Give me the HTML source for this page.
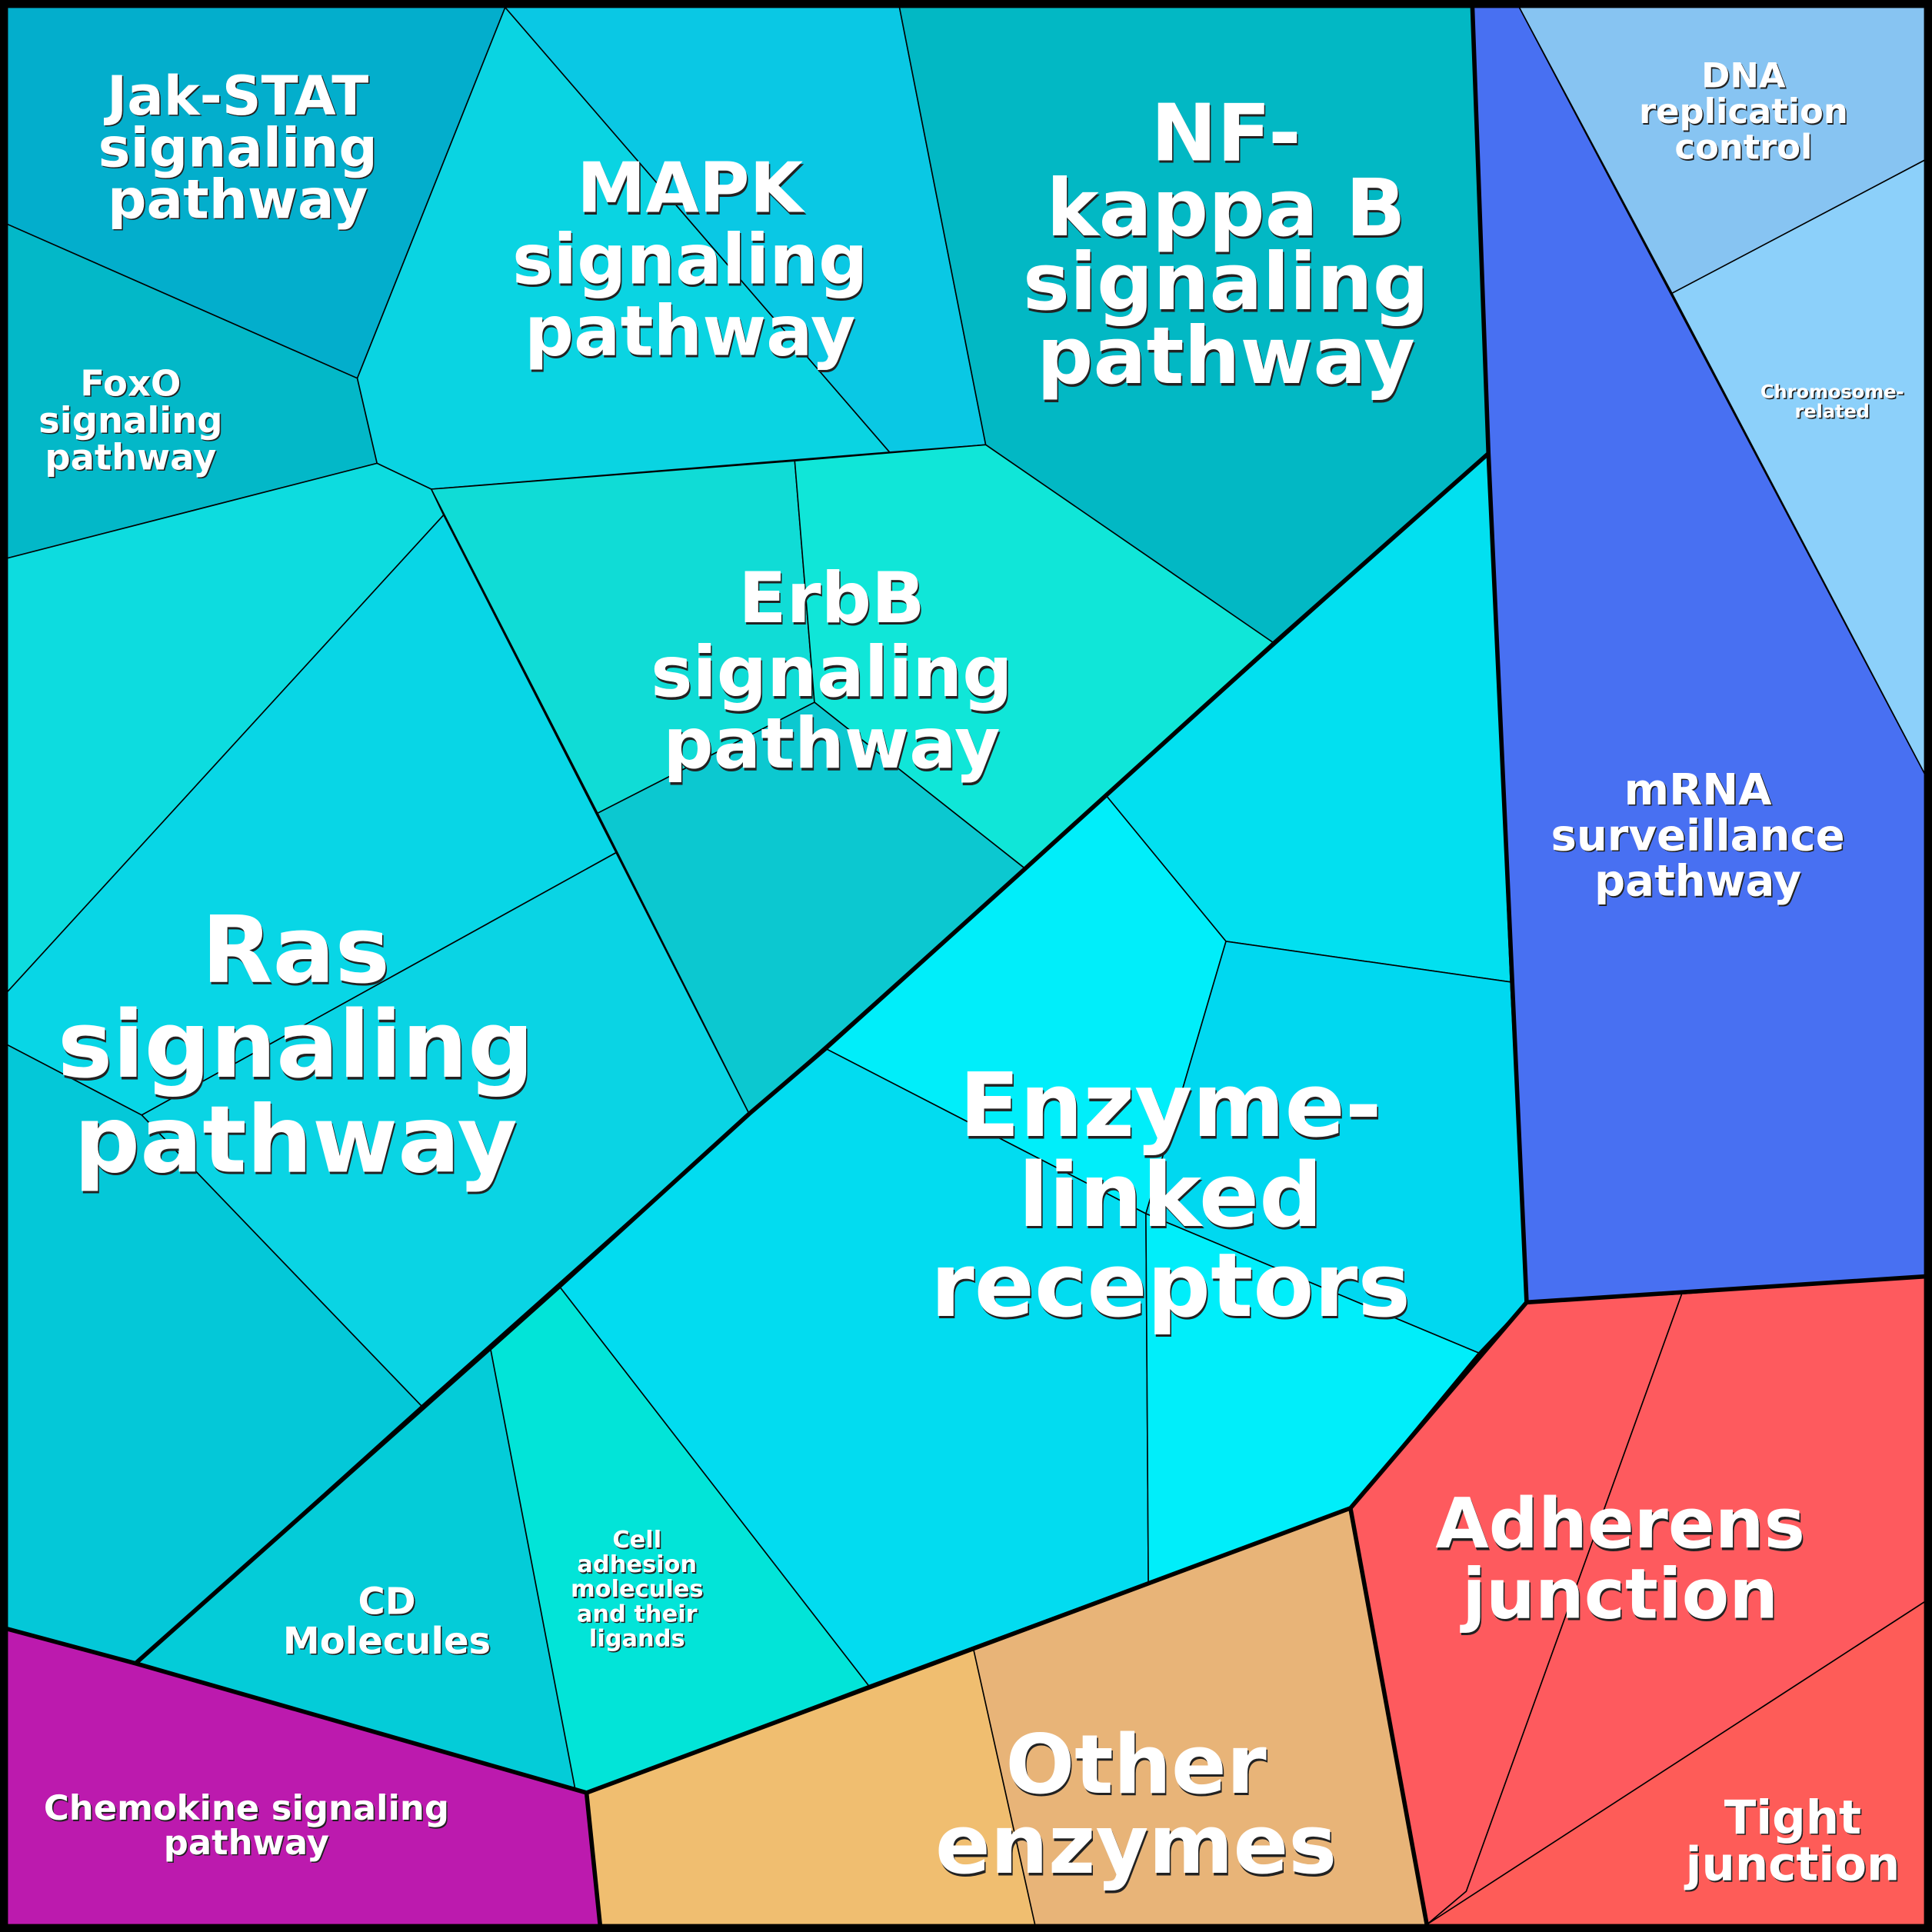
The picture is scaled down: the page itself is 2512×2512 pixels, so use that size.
<!DOCTYPE html>
<html><head><meta charset="utf-8"><style>
html,body{margin:0;padding:0;background:#000}
svg{display:block}
text{font-family:"DejaVu Sans","Liberation Sans",sans-serif;font-weight:bold;text-anchor:middle}
.s{fill:#222}
.w{fill:#fff}
</style></head><body>
<svg width="2512" height="2512" viewBox="0 0 1568 1568" xmlns="http://www.w3.org/2000/svg">
<rect x="0" y="0" width="1568" height="1568" fill="#000"/>
<g stroke="#000" stroke-width="1" stroke-linejoin="round">
<polygon points="6,6 410,6 290,307 6,182" fill="#03aecc"/>
<polygon points="6,182 290,307 306,376 6,453" fill="#03b8c8"/>
<polygon points="410,6 722,367 350,397 306,376 290,307" fill="#0ad4e2"/>
<polygon points="410,6 730,6 800,361 722,367" fill="#0ac8e4"/>
<polygon points="730,6 1195,6 1208,368 1034,522 800,361" fill="#02b8c4"/>
<polygon points="1233,6 1562,6 1562,130 1357,238" fill="#87c4f2"/>
<polygon points="1357,238 1562,130 1562,628" fill="#8cd0fa"/>
<polygon points="1195,6 1233,6 1562,628 1562,1036 1239,1057 1208,368" fill="#4870f2"/>
<polygon points="350,397 645,374 661,570 485,660" fill="#10dcd6"/>
<polygon points="645,374 800,361 1034,522 832,705 661,570" fill="#10e6d8"/>
<polygon points="485,660 661,570 832,705 608,904" fill="#0cc8d0"/>
<polygon points="6,453 306,376 350,397 360,418 6,805" fill="#0ddcdf"/>
<polygon points="360,418 500,692 115,905 6,848 6,805" fill="#08d6e6"/>
<polygon points="500,692 608,904 342,1141 115,905" fill="#0ad4e4"/>
<polygon points="6,848 115,905 342,1141 110,1350 6,1322" fill="#04c8d8"/>
<polygon points="110,1350 398,1094 467,1453" fill="#04ccd8"/>
<polygon points="398,1094 454,1044 705,1368 476,1455 467,1453" fill="#02e4d8"/>
<polygon points="898,646 1208,368 1226,797 995,764" fill="#02e0f0"/>
<polygon points="832,705 898,646 995,764 930,985 670,851" fill="#00eefa"/>
<polygon points="995,764 1226,797 1239,1057 1200,1098 930,985" fill="#00d8f0"/>
<polygon points="454,1044 608,904 670,851 930,985 932,1284 705,1368" fill="#02dcf0"/>
<polygon points="930,985 1200,1098 1096,1224 932,1284" fill="#00eefa"/>
<polygon points="476,1455 790,1338 840,1562 487,1562" fill="#f0be70"/>
<polygon points="790,1338 1096,1224 1158,1562 840,1562" fill="#e8b478"/>
<polygon points="1096,1224 1239,1057 1365,1050 1190,1535 1158,1562" fill="#fe5a5e"/>
<polygon points="1365,1050 1562,1036 1562,1300 1158,1562 1190,1535" fill="#fe5a5e"/>
<polygon points="1158,1562 1562,1300 1562,1562" fill="#fe5c58"/>
<polygon points="6,1322 110,1350 476,1455 487,1562 6,1562" fill="#bc1aae"/>
</g>
<g fill="none" stroke="#000" stroke-width="3.5" stroke-linejoin="round">
<polyline points="1195,6 1208,368 1239,1057 1562,1036"/>
<polyline points="1208,368 1034,522 832,705 670,851 608,904 454,1044 398,1094 110,1350"/>
<polyline points="6,1322 110,1350 476,1455 1096,1224 1239,1057"/>
<polyline points="476,1455 487,1562"/>
<polyline points="1096,1224 1158,1562"/>
<rect x="3" y="3" width="1562" height="1562" stroke-width="6"/>
</g>
<g id="t">
<g font-size="75"><text x="241" y="799" class="s">Ras</text><text x="241" y="876" class="s">signaling</text><text x="241" y="953" class="s">pathway</text></g>
</g>
<g font-size="75" class="w"><text x="240" y="797">Ras</text><text x="240" y="874">signaling</text><text x="240" y="951">pathway</text></g>
<g font-size="72"><text x="951" y="924" class="s">Enzyme-</text><text x="951" y="997" class="s">linked</text><text x="951" y="1070" class="s">receptors</text></g>
<g font-size="72" class="w"><text x="950" y="922">Enzyme-</text><text x="950" y="995">linked</text><text x="950" y="1068">receptors</text></g>
<g font-size="64"><text x="996" y="132" class="s">NF-</text><text x="996" y="193" class="s">kappa B</text><text x="996" y="253" class="s">signaling</text><text x="996" y="313" class="s">pathway</text></g>
<g font-size="64" class="w"><text x="995" y="130">NF-</text><text x="995" y="191">kappa B</text><text x="995" y="251">signaling</text><text x="995" y="311">pathway</text></g>
<g font-size="56"><text x="561" y="174" class="s">MAPK</text><text x="561" y="232" class="s">signaling</text><text x="561" y="290" class="s">pathway</text></g>
<g font-size="56" class="w"><text x="560" y="172">MAPK</text><text x="560" y="230">signaling</text><text x="560" y="288">pathway</text></g>
<g font-size="57"><text x="676" y="507" class="s">ErbB</text><text x="676" y="567" class="s">signaling</text><text x="676" y="625" class="s">pathway</text></g>
<g font-size="57" class="w"><text x="675" y="505">ErbB</text><text x="675" y="565">signaling</text><text x="675" y="623">pathway</text></g>
<g font-size="44"><text x="194" y="94" class="s">Jak-STAT</text><text x="194" y="136" class="s">signaling</text><text x="194" y="178" class="s">pathway</text></g>
<g font-size="44" class="w"><text x="193" y="93">Jak-STAT</text><text x="193" y="135">signaling</text><text x="193" y="177">pathway</text></g>
<g font-size="29"><text x="107" y="322" class="s">FoxO</text><text x="107" y="352" class="s">signaling</text><text x="107" y="382" class="s">pathway</text></g>
<g font-size="29" class="w"><text x="106" y="321">FoxO</text><text x="106" y="351">signaling</text><text x="106" y="381">pathway</text></g>
<g font-size="28"><text x="1416" y="72" class="s">DNA</text><text x="1416" y="101" class="s">replication</text><text x="1416" y="130" class="s">control</text></g>
<g font-size="28" class="w"><text x="1415" y="71">DNA</text><text x="1415" y="100">replication</text><text x="1415" y="129">control</text></g>
<g font-size="15"><text x="1488" y="324" class="s">Chromosome-</text><text x="1488" y="340" class="s">related</text></g>
<g font-size="15" class="w"><text x="1487" y="323">Chromosome-</text><text x="1487" y="339">related</text></g>
<g font-size="35"><text x="1379" y="654" class="s">mRNA</text><text x="1379" y="691" class="s">surveillance</text><text x="1379" y="728" class="s">pathway</text></g>
<g font-size="35" class="w"><text x="1378" y="653">mRNA</text><text x="1378" y="690">surveillance</text><text x="1378" y="727">pathway</text></g>
<g font-size="56"><text x="1316" y="1258" class="s">Adherens</text><text x="1316" y="1315" class="s">junction</text></g>
<g font-size="56" class="w"><text x="1315" y="1256">Adherens</text><text x="1315" y="1313">junction</text></g>
<g font-size="38"><text x="1456" y="1489" class="s">Tight</text><text x="1456" y="1527" class="s">junction</text></g>
<g font-size="38" class="w"><text x="1455" y="1488">Tight</text><text x="1455" y="1526">junction</text></g>
<g font-size="66"><text x="923" y="1457" class="s">Other</text><text x="923" y="1522" class="s">enzymes</text></g>
<g font-size="66" class="w"><text x="922" y="1455">Other</text><text x="922" y="1520">enzymes</text></g>
<g font-size="28"><text x="201" y="1478" class="s">Chemokine signaling</text><text x="201" y="1506" class="s">pathway</text></g>
<g font-size="28" class="w"><text x="200" y="1477">Chemokine signaling</text><text x="200" y="1505">pathway</text></g>
<g font-size="30"><text x="315" y="1311" class="s">CD</text><text x="315" y="1343" class="s">Molecules</text></g>
<g font-size="30" class="w"><text x="314" y="1310">CD</text><text x="314" y="1342">Molecules</text></g>
<g font-size="19"><text x="518" y="1257" class="s">Cell</text><text x="518" y="1277" class="s">adhesion</text><text x="518" y="1297" class="s">molecules</text><text x="518" y="1317" class="s">and their</text><text x="518" y="1337" class="s">ligands</text></g>
<g font-size="19" class="w"><text x="517" y="1256">Cell</text><text x="517" y="1276">adhesion</text><text x="517" y="1296">molecules</text><text x="517" y="1316">and their</text><text x="517" y="1336">ligands</text></g>
</svg>
</body></html>
